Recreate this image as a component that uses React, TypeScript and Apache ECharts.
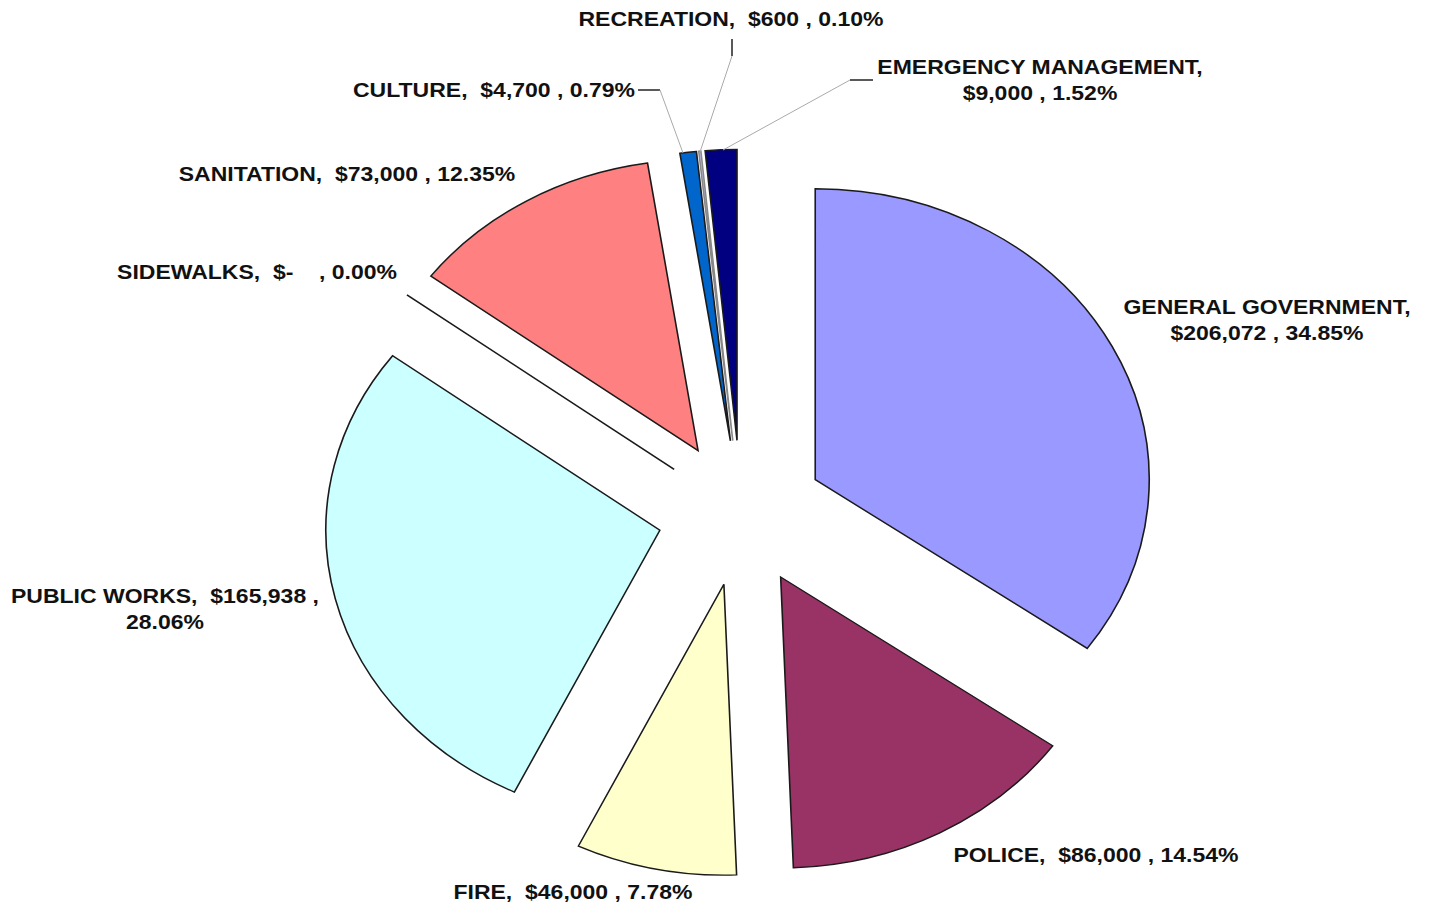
import React, { useEffect, useRef } from 'react';
import * as echarts from 'echarts';

// ---- data (clockwise from 12 o'clock) ----
const categories = [
  'GENERAL GOVERNMENT',
  'POLICE',
  'FIRE',
  'PUBLIC WORKS',
  'SIDEWALKS',
  'SANITATION',
  'CULTURE',
  'RECREATION',
  'EMERGENCY MANAGEMENT',
];
const amounts = [206072, 86000, 46000, 165938, 0, 73000, 4700, 600, 9000];
const sliceColors = ['#9999FF', '#993366', '#FFFFCC', '#CCFFFF', '#660066', '#FF8080', '#0066CC', '#CCCCFF', '#000080'];

// label placement: centre x, centre y, line break mode (0 none, 1 after name, 2 before percent)
const labelX = [1267, 1096, 573, 165, 257, 347, 494, 731, 1040];
const labelY = [320, 855, 892, 609, 272, 174, 90, 19, 80];
const labelBreak = [1, 0, 0, 2, 0, 0, 0, 0, 1];

const CX = 741;
const CY = 513;
const RX = 334;
const SY = 291 / 334;
const EXPLODE = 0.25;

const total = amounts.reduce((a, b) => a + b, 0);
const cumStart: number[] = [];
amounts.reduce((acc, v, i) => {
  cumStart[i] = acc;
  return acc + v;
}, 0);

const NB = '\u00a0';
function money(v: number) {
  return v === 0 ? '$-' + NB + NB + NB : '$' + v.toLocaleString('en-US');
}
function labelText(i: number) {
  const name = categories[i] + ',';
  const m = money(amounts[i]);
  const p = ((amounts[i] / total) * 100).toFixed(2) + '%';
  if (labelBreak[i] === 1) return name + '\n' + m + ' , ' + p;
  if (labelBreak[i] === 2) return name + ' ' + NB + m + ' ,\n' + p;
  return name + ' ' + NB + m + ' , ' + p;
}

export default function App() {
  const ref = useRef<HTMLDivElement>(null);
  useEffect(() => {
    if (!ref.current) return;
    const chart = echarts.init(ref.current, undefined, { renderer: 'svg' });
    const textEls = categories.map((_, i) => ({
      type: 'text',
      x: labelX[i],
      y: labelY[i],
      scaleX: 1.15,
      z: 20,
      style: {
        text: labelText(i),
        font: 'bold 20px "Liberation Sans", Arial, sans-serif',
        fill: '#111',
        align: 'center',
        textAlign: 'center',
        verticalAlign: 'middle',
        textVerticalAlign: 'middle',
        lineHeight: 26,
      },
    }));
    const dark = { stroke: '#222', lineWidth: 1.5 };
    const light = { stroke: '#aaa', lineWidth: 1 };
    const leaders = [
      { type: 'polyline', z: 15, shape: { points: [[638, 90], [660, 90]] }, style: dark },
      { type: 'polyline', z: 15, shape: { points: [[660, 90], [683, 153]] }, style: light },
      { type: 'polyline', z: 15, shape: { points: [[732, 39], [732, 56]] }, style: dark },
      { type: 'polyline', z: 15, shape: { points: [[732, 56], [700, 152]] }, style: light },
      { type: 'polyline', z: 15, shape: { points: [[850, 80], [873, 80]] }, style: dark },
      { type: 'polyline', z: 15, shape: { points: [[850, 80], [723, 150]] }, style: light },
    ];
    chart.setOption({
      animation: false,
      backgroundColor: '#ffffff',
      graphic: { elements: [...textEls, ...leaders] },
      series: [
        {
          type: 'custom',
          coordinateSystem: 'none',
          data: amounts,
          renderItem: (params: any, api: any) => {
            const i = params.dataIndex;
            const v = api.value(0) as number;
            const start = (cumStart[i] / total) * Math.PI * 2;
            const end = start + (v / total) * Math.PI * 2;
            const mid = (start + end) / 2;
            const off = RX * EXPLODE;
            const tx = CX + off * Math.sin(mid);
            const ty = CY - off * Math.cos(mid) * SY;
            if (v === 0) {
              return {
                type: 'line',
                x: tx,
                y: ty,
                scaleY: SY,
                shape: { x1: 0, y1: 0, x2: RX * Math.sin(start), y2: -RX * Math.cos(start) },
                style: { stroke: '#1a1a1a', lineWidth: 1.6, strokeNoScale: true },
              };
            }
            return {
              type: 'sector',
              x: tx,
              y: ty,
              scaleY: SY,
              shape: {
                cx: 0,
                cy: 0,
                r0: 0,
                r: RX,
                startAngle: start - Math.PI / 2,
                endAngle: end - Math.PI / 2,
                clockwise: true,
              },
              style: {
                fill: sliceColors[i],
                stroke: i === 7 ? '#888' : '#1a1a1a',
                lineWidth: 1.6,
                strokeNoScale: true,
              },
            };
          },
        },
      ],
    });
    return () => chart.dispose();
  }, []);
  return (
    <div
      ref={ref}
      style={{ position: 'fixed', left: 0, top: 0, width: 1434, height: 907, background: '#fff' }}
    />
  );
}
